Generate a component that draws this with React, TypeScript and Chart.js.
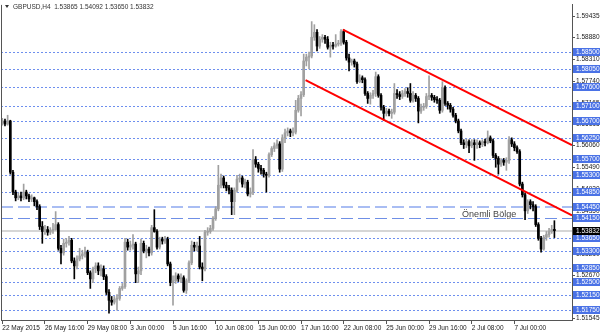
import React, { useEffect, useRef } from "react";
import { Chart, registerables } from "chart.js";

Chart.register(...registerables);

// ---- Data: GBPUSD H4 candles (bar index 0 = 22 May 2015 00:00) ----
const opens = [
  1.5665, 1.5670, 1.5662, 1.5670, 1.5536, 1.5484, 1.5469, 1.5474, 1.5469, 1.5484, 1.5474, 1.5466, 1.5469, 1.5459, 1.5446, 1.5394,
  1.5381, 1.5386, 1.5379, 1.5384, 1.5386, 1.5399, 1.5337, 1.5325, 1.5350, 1.5353, 1.5358, 1.5304, 1.5291, 1.5309, 1.5317, 1.5322,
  1.5327, 1.5273, 1.5257, 1.5283, 1.5291, 1.5278, 1.5283, 1.5263, 1.5222, 1.5201, 1.5196, 1.5204, 1.5206, 1.5232, 1.5237, 1.5353,
  1.5340, 1.5345, 1.5348, 1.5270, 1.5278, 1.5350, 1.5330, 1.5335, 1.5325, 1.5391, 1.5381, 1.5340, 1.5361, 1.5356, 1.5361, 1.5296,
  1.5247, 1.5252, 1.5265, 1.5257, 1.5260, 1.5227, 1.5252, 1.5299, 1.5345, 1.5340, 1.5343, 1.5288, 1.5283, 1.5379, 1.5381, 1.5389,
  1.5415, 1.5440, 1.5502, 1.5521, 1.5502, 1.5495, 1.5489, 1.5459, 1.5489, 1.5518, 1.5521, 1.5505, 1.5510, 1.5479, 1.5484, 1.5569,
  1.5557, 1.5546, 1.5541, 1.5531, 1.5528, 1.5582, 1.5598, 1.5605, 1.5610, 1.5544, 1.5626, 1.5639, 1.5644, 1.5639, 1.5641, 1.5698,
  1.5729, 1.5739, 1.5827, 1.5837, 1.5840, 1.5889, 1.5902, 1.5866, 1.5884, 1.5889, 1.5884, 1.5863, 1.5868, 1.5866, 1.5871, 1.5873,
  1.5904, 1.5876, 1.5835, 1.5824, 1.5827, 1.5819, 1.5773, 1.5783, 1.5778, 1.5742, 1.5729, 1.5737, 1.5742, 1.5786, 1.5737, 1.5706,
  1.5690, 1.5696, 1.5690, 1.5693, 1.5742, 1.5739, 1.5734, 1.5742, 1.5747, 1.5742, 1.5724, 1.5737, 1.5729, 1.5696, 1.5706, 1.5708,
  1.5734, 1.5737, 1.5732, 1.5726, 1.5724, 1.5698, 1.5757, 1.5716, 1.5711, 1.5701, 1.5685, 1.5670, 1.5644, 1.5613, 1.5608, 1.5616,
  1.5605, 1.5613, 1.5608, 1.5613, 1.5608, 1.5616, 1.5613, 1.5626, 1.5618, 1.5580, 1.5572, 1.5557, 1.5567, 1.5562, 1.5567, 1.5621,
  1.5610, 1.5600, 1.5590, 1.5505, 1.5477, 1.5435, 1.5459, 1.5451, 1.5446, 1.5399, 1.5363, 1.5335, 1.5366, 1.5373, 1.5381, 1.53865,
];
const highs = [
  1.5677, 1.5675, 1.5685, 1.5672, 1.5541, 1.5489, 1.5482, 1.5484, 1.5505, 1.5489, 1.5479, 1.5477, 1.5471, 1.5464, 1.5451, 1.5407,
  1.5397, 1.5394, 1.5391, 1.5402, 1.5433, 1.5404, 1.5345, 1.5361, 1.5363, 1.5368, 1.5363, 1.5312, 1.5317, 1.5337, 1.5332, 1.5340,
  1.5332, 1.5278, 1.5288, 1.5299, 1.5299, 1.5294, 1.5291, 1.5268, 1.5229, 1.5211, 1.5211, 1.5216, 1.5237, 1.5245, 1.5363, 1.5361,
  1.5356, 1.5373, 1.5353, 1.5288, 1.5361, 1.5356, 1.5345, 1.5340, 1.5397, 1.5438, 1.5386, 1.5366, 1.5366, 1.5368, 1.5366, 1.5301,
  1.5265, 1.5273, 1.5270, 1.5270, 1.5265, 1.5257, 1.5304, 1.5356, 1.5353, 1.5353, 1.5368, 1.5299, 1.5384, 1.5391, 1.5397, 1.5420,
  1.5446, 1.5554, 1.5531, 1.5526, 1.5510, 1.5502, 1.5495, 1.5495, 1.5528, 1.5531, 1.5526, 1.5518, 1.5515, 1.5495, 1.5595, 1.5577,
  1.5562, 1.5554, 1.5546, 1.5536, 1.5587, 1.5603, 1.5613, 1.5621, 1.5616, 1.5634, 1.5649, 1.5652, 1.5649, 1.5652, 1.5724, 1.5737,
  1.5747, 1.5845, 1.5845, 1.5850, 1.5930, 1.5922, 1.5909, 1.5891, 1.5896, 1.5894, 1.5891, 1.5876, 1.5876, 1.5896, 1.5881, 1.5909,
  1.5909, 1.5881, 1.5845, 1.5832, 1.5832, 1.5824, 1.5791, 1.5788, 1.5783, 1.5747, 1.5744, 1.5750, 1.5798, 1.5791, 1.5742, 1.5711,
  1.5703, 1.5701, 1.5701, 1.5768, 1.5752, 1.5747, 1.5750, 1.5755, 1.5757, 1.5768, 1.5747, 1.5742, 1.5734, 1.5714, 1.5716, 1.5742,
  1.5788, 1.5742, 1.5737, 1.5734, 1.5729, 1.5773, 1.5762, 1.5721, 1.5716, 1.5706, 1.5690, 1.5675, 1.5649, 1.5621, 1.5623, 1.5621,
  1.5621, 1.5621, 1.5621, 1.5618, 1.5621, 1.5623, 1.5644, 1.5631, 1.5623, 1.5585, 1.5577, 1.5572, 1.5572, 1.5574, 1.5629, 1.5626,
  1.5616, 1.5605, 1.5595, 1.5510, 1.5482, 1.5464, 1.5464, 1.5459, 1.5451, 1.5404, 1.5368, 1.5371, 1.5381, 1.5389, 1.5397, 1.54092,
];
const lows = [
  1.5659, 1.5657, 1.5659, 1.5531, 1.5477, 1.5461, 1.5464, 1.5461, 1.5464, 1.5466, 1.5459, 1.5459, 1.5448, 1.5438, 1.5386, 1.5350,
  1.5373, 1.5371, 1.5373, 1.5376, 1.5384, 1.5332, 1.5296, 1.5319, 1.5340, 1.5345, 1.5299, 1.5257, 1.5283, 1.5304, 1.5309, 1.5314,
  1.5268, 1.5232, 1.5247, 1.5273, 1.5268, 1.5265, 1.5255, 1.5216, 1.5167, 1.5188, 1.5191, 1.5175, 1.5201, 1.5227, 1.5232, 1.5332,
  1.5332, 1.5335, 1.5247, 1.5247, 1.5268, 1.5325, 1.5312, 1.5317, 1.5319, 1.5379, 1.5335, 1.5335, 1.5348, 1.5350, 1.5291, 1.5239,
  1.5188, 1.5245, 1.5250, 1.5247, 1.5222, 1.5219, 1.5247, 1.5294, 1.5330, 1.5330, 1.5283, 1.5252, 1.5278, 1.5371, 1.5376, 1.5384,
  1.5410, 1.5435, 1.5495, 1.5495, 1.5487, 1.5479, 1.5425, 1.5425, 1.5484, 1.5510, 1.5497, 1.5495, 1.5474, 1.5471, 1.5477, 1.5549,
  1.5536, 1.5531, 1.5523, 1.5484, 1.5523, 1.5577, 1.5590, 1.5598, 1.5536, 1.5538, 1.5613, 1.5631, 1.5629, 1.5631, 1.5636, 1.5693,
  1.5683, 1.5734, 1.5814, 1.5806, 1.5835, 1.5881, 1.5853, 1.5860, 1.5876, 1.5873, 1.5858, 1.5837, 1.5858, 1.5863, 1.5866, 1.5868,
  1.5871, 1.5829, 1.5801, 1.5816, 1.5811, 1.5768, 1.5770, 1.5770, 1.5737, 1.5716, 1.5714, 1.5729, 1.5734, 1.5732, 1.5698, 1.5672,
  1.5683, 1.5683, 1.5677, 1.5688, 1.5729, 1.5726, 1.5729, 1.5734, 1.5732, 1.5719, 1.5719, 1.5721, 1.5665, 1.5690, 1.5698, 1.5703,
  1.5726, 1.5724, 1.5719, 1.5716, 1.5690, 1.5693, 1.5711, 1.5701, 1.5693, 1.5680, 1.5665, 1.5639, 1.5608, 1.5598, 1.5600, 1.5587,
  1.5600, 1.5567, 1.5598, 1.5600, 1.5603, 1.5605, 1.5610, 1.5613, 1.5574, 1.5549, 1.5531, 1.5551, 1.5554, 1.5541, 1.5559, 1.5603,
  1.5592, 1.5585, 1.5500, 1.5471, 1.5412, 1.5428, 1.5440, 1.5435, 1.5394, 1.5358, 1.5327, 1.5332, 1.5358, 1.5366, 1.5376, 1.5365,
];
const closes = [
  1.5670, 1.5662, 1.5670, 1.5536, 1.5484, 1.5469, 1.5474, 1.5469, 1.5484, 1.5474, 1.5466, 1.5469, 1.5459, 1.5446, 1.5394, 1.5381,
  1.5386, 1.5379, 1.5384, 1.5386, 1.5399, 1.5337, 1.5325, 1.5350, 1.5353, 1.5358, 1.5304, 1.5291, 1.5309, 1.5317, 1.5322, 1.5327,
  1.5273, 1.5257, 1.5283, 1.5291, 1.5278, 1.5283, 1.5263, 1.5222, 1.5201, 1.5196, 1.5204, 1.5206, 1.5232, 1.5237, 1.5353, 1.5340,
  1.5345, 1.5348, 1.5270, 1.5278, 1.5350, 1.5330, 1.5335, 1.5325, 1.5391, 1.5381, 1.5340, 1.5361, 1.5356, 1.5361, 1.5296, 1.5247,
  1.5252, 1.5265, 1.5257, 1.5260, 1.5227, 1.5252, 1.5299, 1.5345, 1.5340, 1.5343, 1.5288, 1.5283, 1.5379, 1.5381, 1.5389, 1.5415,
  1.5440, 1.5502, 1.5521, 1.5502, 1.5495, 1.5489, 1.5459, 1.5489, 1.5518, 1.5521, 1.5505, 1.5510, 1.5479, 1.5484, 1.5569, 1.5557,
  1.5546, 1.5541, 1.5531, 1.5528, 1.5582, 1.5598, 1.5605, 1.5610, 1.5544, 1.5626, 1.5639, 1.5644, 1.5639, 1.5641, 1.5698, 1.5729,
  1.5739, 1.5827, 1.5837, 1.5840, 1.5889, 1.5902, 1.5866, 1.5884, 1.5889, 1.5884, 1.5863, 1.5868, 1.5866, 1.5871, 1.5873, 1.5904,
  1.5876, 1.5835, 1.5824, 1.5827, 1.5819, 1.5773, 1.5783, 1.5778, 1.5742, 1.5729, 1.5737, 1.5742, 1.5786, 1.5737, 1.5706, 1.5690,
  1.5696, 1.5690, 1.5693, 1.5742, 1.5739, 1.5734, 1.5742, 1.5747, 1.5742, 1.5724, 1.5737, 1.5729, 1.5696, 1.5706, 1.5708, 1.5734,
  1.5737, 1.5732, 1.5726, 1.5724, 1.5698, 1.5757, 1.5716, 1.5711, 1.5701, 1.5685, 1.5670, 1.5644, 1.5613, 1.5608, 1.5616, 1.5605,
  1.5613, 1.5608, 1.5613, 1.5608, 1.5616, 1.5613, 1.5626, 1.5618, 1.5580, 1.5572, 1.5557, 1.5567, 1.5562, 1.5567, 1.5621, 1.5610,
  1.5600, 1.5590, 1.5505, 1.5477, 1.5435, 1.5459, 1.5451, 1.5446, 1.5399, 1.5363, 1.5335, 1.5366, 1.5373, 1.5381, 1.5386, 1.53832,
];

// ---- Axis labels ----
const xTickBars = [0, 16, 32, 48, 64, 80, 96, 112, 128, 144, 160, 176, 192];
const xTickLabels = [
  "22 May 2015", "26 May 16:00", "29 May 08:00", "3 Jun 00:00", "5 Jun 16:00", "10 Jun 08:00", "15 Jun 00:00",
  "17 Jun 16:00", "22 Jun 08:00", "25 Jun 00:00", "29 Jun 16:00", "2 Jul 08:00", "7 Jul 00:00",
];
const yTickValues = [
  1.59435, 1.5888, 1.5831, 1.5774, 1.57165, 1.56615, 1.5606, 1.5549, 1.5492, 1.5435, 1.5378, 1.5321, 1.5267, 1.521, 1.51545,
];

// ---- Drawn objects ----
const levelValues = [
  1.585, 1.5805, 1.576, 1.571, 1.567, 1.5625, 1.557, 1.553, 1.5485, 1.5365, 1.533, 1.5285, 1.525, 1.5215, 1.5175,
];
const zoneValues = [1.5445, 1.5415];
const currentPrice = 1.53832;
const upperTrend = [{ x: 127.7, y: 1.5909 }, { x: 213.6, y: 1.5607 }];
const lowerTrend = [{ x: 113.7, y: 1.5777 }, { x: 213.6, y: 1.5423 }];
const zoneLabel = "Önemli Bölge";
const zoneLabelAt = { x: 172.4, y: 1.542 };
const symbolLabel = "GBPUSD,H4";

const FONT = '"Liberation Sans", Arial, sans-serif';

export default function App() {
  const ref = useRef<HTMLCanvasElement>(null);

  useEffect(() => {
    document.body.style.margin = "0";
    const canvas = ref.current!;
    const bull = "#a0a0a0";
    const bear = "#000000";
    const colors = closes.map((c, i) => (c >= opens[i] ? bull : bear));
    const bodyData = opens.map((o, i) => ({ x: i, y: [o, closes[i]] }));
    const wickData = highs.map((h, i) => ({ x: i, y: [lows[i], h] }));
    const last = closes.length - 1;

    const overlay = {
      id: "overlay",
      beforeDatasetsDraw(chart: any) {
        const { ctx, chartArea: a, scales } = chart;
        const y = scales.y;
        ctx.save();
        ctx.beginPath();
        ctx.rect(a.left, a.top, a.right - a.left, a.bottom - a.top);
        ctx.clip();
        const hline = (v: number, color: string, width: number, dash: number[]) => {
          const py = Math.round(y.getPixelForValue(v)) + (width % 2 ? 0.5 : 0);
          ctx.strokeStyle = color;
          ctx.lineWidth = width;
          ctx.setLineDash(dash);
          ctx.beginPath();
          ctx.moveTo(a.left, py);
          ctx.lineTo(a.right, py);
          ctx.stroke();
        };
        hline(currentPrice, "#d6d6d6", 2, []);
        levelValues.forEach((v) => hline(v, "#6e8fee", 1, [2, 2]));
        hline(zoneValues[0], "#a9bdf3", 2, [12, 5]);
        hline(zoneValues[1], "#6f8fe6", 1, [12, 5]);
        ctx.restore();
      },
      afterDraw(chart: any) {
        const { ctx, chartArea: a, scales } = chart;
        const y = scales.y;
        const x = scales.x;
        ctx.save();
        ctx.setLineDash([]);
        // left frame
        ctx.strokeStyle = "#555";
        ctx.lineWidth = 1;
        ctx.beginPath();
        ctx.moveTo(a.left + 0.5, a.top);
        ctx.lineTo(a.left + 0.5, a.bottom);
        ctx.stroke();
        // price-level labels on the axis
        ctx.font = `6.5px ${FONT}`;
        ctx.textBaseline = "middle";
        ctx.textAlign = "left";
        const box = (v: number, bg: string, fg: string) => {
          const py = Math.round(y.getPixelForValue(v));
          ctx.fillStyle = bg;
          ctx.fillRect(a.right + 1, py - 4, chart.width - a.right - 1, 8);
          ctx.fillStyle = fg;
          ctx.fillText(v.toFixed(5), a.right + 4, py + 0.5);
        };
        [...levelValues, ...zoneValues].forEach((v) => box(v, "#4a72e6", "#ffffff"));
        box(currentPrice, "#000000", "#ffffff");
        // zone label
        ctx.font = `9px ${FONT}`;
        ctx.fillStyle = "#444";
        ctx.textBaseline = "alphabetic";
        ctx.fillText(zoneLabel, x.getPixelForValue(zoneLabelAt.x), y.getPixelForValue(zoneLabelAt.y));
        // title
        ctx.fillStyle = "#333";
        ctx.beginPath();
        ctx.moveTo(a.left + 4, 5);
        ctx.lineTo(a.left + 8, 5);
        ctx.lineTo(a.left + 6, 8);
        ctx.closePath();
        ctx.fill();
        ctx.font = `6.5px ${FONT}`;
        ctx.textBaseline = "middle";
        const title = `${symbolLabel}  ${opens[last].toFixed(5)} ${highs[last].toFixed(5)} ${lows[last].toFixed(5)} ${closes[last].toFixed(5)}`;
        ctx.fillText(title, a.left + 12, 7);
        ctx.restore();
      },
    };

    const chart = new Chart(canvas, {
      type: "bar",
      data: {
        datasets: [
          {
            type: "line",
            data: upperTrend,
            borderColor: "#ff0000",
            borderWidth: 2,
            pointRadius: 0,
            fill: false,
            order: 0,
          } as any,
          {
            type: "line",
            data: lowerTrend,
            borderColor: "#ff0000",
            borderWidth: 2,
            pointRadius: 0,
            fill: false,
            order: 0,
          } as any,
          {
            type: "bar",
            data: bodyData,
            backgroundColor: colors,
            borderWidth: 0,
            barThickness: 2,
            minBarLength: 1,
            grouped: false,
            order: 1,
          } as any,
          {
            type: "bar",
            data: wickData,
            backgroundColor: colors,
            borderWidth: 0,
            barThickness: 1,
            grouped: false,
            order: 2,
          } as any,
        ],
      },
      options: {
        responsive: false,
        animation: false,
        devicePixelRatio: 1,
        events: [],
        layout: { padding: { left: 1, top: 0, right: 0, bottom: 0 } },
        plugins: {
          legend: { display: false },
          tooltip: { enabled: false },
          title: { display: false },
        },
        scales: {
          x: {
            type: "linear",
            min: -0.49,
            max: 213.6,
            offset: false,
            afterBuildTicks: (s: any) => {
              s.ticks = xTickBars.map((v) => ({ value: v }));
            },
            afterFit: (s: any) => {
              s.height = 13;
            },
            ticks: {
              autoSkip: false,
              maxRotation: 0,
              minRotation: 0,
              align: "start",
              padding: 0,
              color: "#222",
              font: { family: FONT, size: 6.5 },
              callback: (v: any) => xTickLabels[xTickBars.indexOf(Number(v))] ?? "",
            },
            grid: { display: true, drawOnChartArea: false, drawTicks: true, tickLength: 4, color: "#555", offset: false },
            border: { display: true, color: "#555" },
          },
          y: {
            type: "linear",
            position: "right",
            min: 1.51494,
            max: 1.59737,
            afterBuildTicks: (s: any) => {
              s.ticks = yTickValues.map((v) => ({ value: v }));
            },
            afterFit: (s: any) => {
              s.width = 28;
            },
            ticks: {
              autoSkip: false,
              padding: 1,
              color: "#222",
              font: { family: FONT, size: 6.5 },
              callback: (v: any) => Number(v).toFixed(5),
            },
            grid: { display: true, drawOnChartArea: false, tickLength: 3, color: "#555" },
            border: { display: true, color: "#555" },
          },
        },
      } as any,
      plugins: [overlay],
    });
    return () => chart.destroy();
  }, []);

  return (
    <div style={{ position: "fixed", left: 0, top: 0, width: 600, height: 333, background: "#ffffff" }}>
      <canvas ref={ref} width={600} height={333} style={{ display: "block" }} />
    </div>
  );
}
